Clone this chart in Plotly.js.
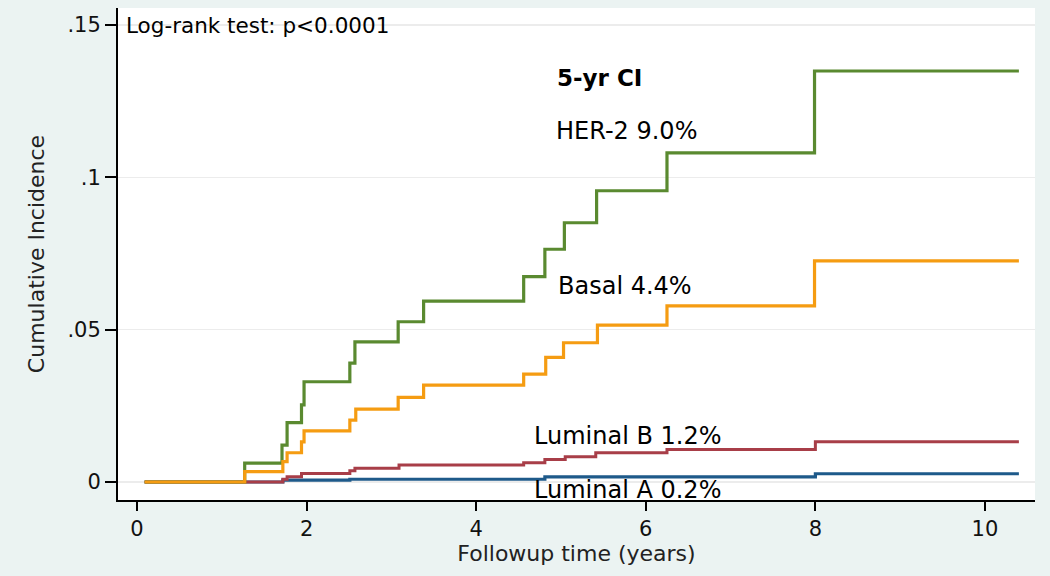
<!DOCTYPE html>
<html>
<head>
<meta charset="utf-8">
<script src="https://cdn.plot.ly/plotly-3.0.1.min.js"></script>
<style>
  html, body { margin: 0; padding: 0; background: #ebf3f2; }
  #chart { width: 1050px; height: 576px; }
</style>
</head>
<body>
<div id="chart"></div>
<script>
// ---- Data ----
const seriesNames = ["Luminal A", "Luminal B", "HER-2", "Basal"];

const lumA_t = [0.09, 1.72, 2.51, 4.81, 8.0, 10.4];
const lumA_ci = [0, 0.0006, 0.0009, 0.0017, 0.0027, 0.0027];

const lumB_t = [0.09, 1.72, 1.77, 1.94, 2.51, 2.57, 3.09, 4.56, 4.81, 5.05, 5.41, 6.25, 8.0, 10.4];
const lumB_ci = [0, 0.0009, 0.0017, 0.0028, 0.0037, 0.0045, 0.0056, 0.0063, 0.0074, 0.0083, 0.0096, 0.0107, 0.0132, 0.0132];

const her2_t = [0.09, 1.27, 1.71, 1.77, 1.94, 1.97, 2.51, 2.57, 3.08, 3.38, 4.56, 4.81, 5.04, 5.42, 6.25, 7.99, 10.4];
const her2_ci = [0, 0.0062, 0.0121, 0.0195, 0.0253, 0.0329, 0.039, 0.046, 0.0526, 0.0594, 0.0674, 0.0764, 0.0851, 0.0956, 0.108, 0.1349, 0.1349];

const basal_t = [0.09, 1.27, 1.72, 1.77, 1.94, 1.97, 2.51, 2.58, 3.08, 3.38, 4.56, 4.82, 5.03, 5.43, 6.25, 7.99, 10.4];
const basal_ci = [0, 0.0034, 0.0067, 0.0096, 0.0132, 0.0168, 0.0203, 0.0239, 0.0278, 0.0318, 0.0354, 0.0409, 0.0457, 0.0515, 0.0578, 0.0726, 0.0726];

const yTickVals = [0, 0.05, 0.1, 0.15];
const yTickText = ["0", ".05", ".1", ".15"];
const xTickVals = [0, 2, 4, 6, 8, 10];
const xTickText = ["0", "2", "4", "6", "8", "10"];

const labelText = ["Luminal A 0.2%", "Luminal B 1.2%", "HER-2 9.0%", "Basal 4.4%"];
const headerText = "5-yr CI";
const testText = "Log-rank test: p<0.0001";

// ---- Traces ----
const FONT = "DejaVu Sans, Liberation Sans, Arial, sans-serif";
function stepTrace(t, ci, name, color, width) {
  return { x: t, y: ci, name: name, type: "scatter", mode: "lines",
           line: { shape: "hv", color: color, width: width }, hoverinfo: "skip" };
}
const traces = [
  stepTrace(lumA_t, lumA_ci, seriesNames[0], "#1e5a8a", 3.2),
  stepTrace(lumB_t, lumB_ci, seriesNames[1], "#a83e48", 3),
  stepTrace(her2_t, her2_ci, seriesNames[2], "#5a8a30", 3.2),
  stepTrace(basal_t, basal_ci, seriesNames[3], "#f59c12", 3.2)
];

function ann(x, y, text, size, opts) {
  return Object.assign({ x: x, y: y, xref: "x", yref: "y", text: text, showarrow: false,
    font: { family: FONT, size: size, color: "#000" }, xanchor: "center", yanchor: "middle" }, opts || {});
}

const layout = {
  width: 1050, height: 576,
  margin: { l: 118, r: 15, t: 8, b: 76 },
  paper_bgcolor: "#ebf3f2",
  plot_bgcolor: "#ffffff",
  showlegend: false,
  font: { family: FONT, color: "#000" },
  xaxis: {
    range: [-0.224, 10.59],
    tickvals: xTickVals, ticktext: xTickText,
    ticks: "outside", ticklen: 9, tickwidth: 2, tickcolor: "#000",
    showline: true, linecolor: "#000", linewidth: 2,
    showgrid: false, zeroline: false,
    tickfont: { family: FONT, size: 21, color: "#111" },
    title: { text: "Followup time (years)", font: { family: FONT, size: 22, color: "#222" }, standoff: 5 }
  },
  yaxis: {
    range: [-0.005908, 0.15558],
    tickvals: yTickVals, ticktext: yTickText,
    ticks: "outside", ticklen: 11, tickwidth: 2, tickcolor: "#000",
    showline: true, linecolor: "#000", linewidth: 2,
    showgrid: true, gridcolor: "#ececec", gridwidth: 1.5, zeroline: false,
    tickfont: { family: FONT, size: 21, color: "#111" },
    title: { text: "Cumulative Incidence", font: { family: FONT, size: 22, color: "#222" }, standoff: 17 }
  },
  annotations: [
    ann(-0.153, 0.15, testText, 21.5, { xanchor: "left" }),
    ann(5.45, 0.1326, "<b>" + headerText + "</b>", 23),
    ann(5.77, 0.1152, labelText[2], 24),
    ann(5.75, 0.0643, labelText[3], 24),
    ann(5.79, 0.0151, labelText[1], 24),
    ann(5.79, -0.0026, labelText[0], 24)
  ]
};

Plotly.newPlot("chart", traces, layout, { displayModeBar: false, staticPlot: true });
</script>
</body>
</html>
